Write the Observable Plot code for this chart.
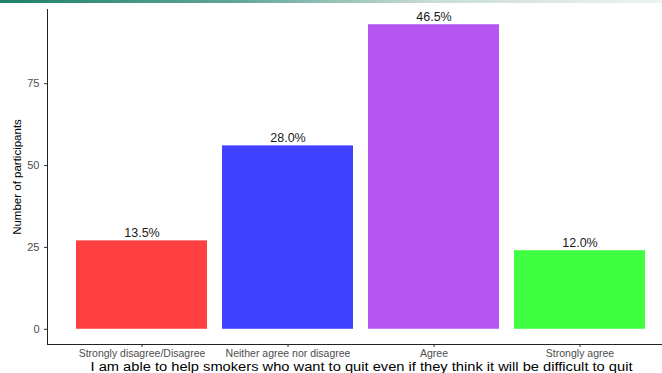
<!DOCTYPE html>
<html>
<head>
<meta charset="utf-8">
<script src="https://cdn.jsdelivr.net/npm/d3@7"></script>
<script src="https://cdn.jsdelivr.net/npm/@observablehq/plot@0.6"></script>
<style>
  html, body { margin: 0; padding: 0; background: #ffffff; }
  #wrap { position: relative; width: 662px; height: 373px; overflow: hidden; }
  #topbar { position: absolute; left: 0; top: 0; width: 662px; height: 3px;
    background: linear-gradient(to right, #1f7f6d 0%, #5fa596 35%, #c9dcd6 65%, #eef3f1 100%); }
  #chart { position: absolute; left: 0; top: 0; }
  svg { font-family: "Liberation Sans", Arial, sans-serif; }
</style>
</head>
<body>
<div id="wrap"><div id="chart"></div><div id="topbar"></div></div>
<script>
const categories = ["Strongly disagree/Disagree", "Neither agree nor disagree", "Agree", "Strongly agree"];
const counts = [27, 56, 93, 24];
const percentLabels = ["13.5%", "28.0%", "46.5%", "12.0%"];
const barColors = ["#ff4040", "#4040ff", "#b556f2", "#40ff40"];
const yTicks = [0, 25, 50, 75];
const xTitle = "I am able to help smokers who want to quit even if they think it will be difficult to quit";
const yTitle = "Number of participants";

const data = categories.map((c, i) => ({cat: c, n: counts[i], label: percentLabels[i]}));

const chart = Plot.plot({
  width: 662,
  height: 373,
  marginLeft: 47,
  marginRight: 0,
  marginTop: 9,
  marginBottom: 29,
  style: {fontFamily: "'Liberation Sans', Arial, sans-serif", background: "transparent"},
  x: {domain: categories, paddingInner: 0.1, paddingOuter: 0.152, align: 0.63, label: null, axis: null},
  y: {domain: [-4.65, 97.65], label: null, axis: null},
  color: {domain: categories, range: barColors},
  marks: [
    Plot.barY(data, {x: "cat", y1: 0, y2: "n", fill: "cat"}),
    Plot.text(data, {x: "cat", y: "n", text: "label", dy: -8, fontSize: 12.5, fill: "#1a1a1a"}),
    Plot.axisX({tickSize: 3, tickPadding: 2, fontSize: 10.5, color: "#4d4d4d", stroke: "#333333", label: null}),
    Plot.axisY({ticks: yTicks, tickSize: 3, tickPadding: 5, fontSize: 11, color: "#4d4d4d", stroke: "#333333", label: null}),
    Plot.frame({anchor: "left", stroke: "#222222"}),
    Plot.frame({anchor: "bottom", stroke: "#222222"}),
    Plot.text([xTitle], {frameAnchor: "bottom", lineAnchor: "middle", dy: 22.5, dx: 6.5, fontSize: 12, fill: "#000000", className: "xtitle"}),
    Plot.text([yTitle], {frameAnchor: "left", textAnchor: "middle", lineAnchor: "middle", dx: -30, rotate: -90, fontSize: 11.5, fill: "#000000"})
  ]
});
document.getElementById("chart").appendChild(chart);
d3.select(chart).selectAll("g.xtitle text")
  .attr("textLength", 542)
  .attr("lengthAdjust", "spacingAndGlyphs");
</script>
</body>
</html>
